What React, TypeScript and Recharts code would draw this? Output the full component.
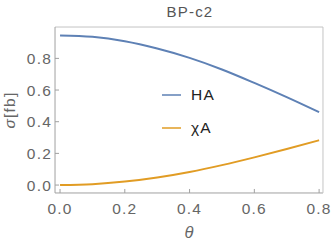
import React from 'react';
import { LineChart, Line, XAxis, YAxis, Legend } from 'recharts';

const thetas = [0, 0.1, 0.2, 0.3, 0.4, 0.5, 0.6, 0.7, 0.8];
const haValues = [0.945, 0.936, 0.908, 0.862, 0.803, 0.73, 0.645, 0.555, 0.46];
const chiValues = [0, 0.0055, 0.022, 0.048, 0.083, 0.126, 0.175, 0.228, 0.283];
const xTicks = [0, 0.2, 0.4, 0.6, 0.8];
const xMinor = [0.05, 0.1, 0.15, 0.25, 0.3, 0.35, 0.45, 0.5, 0.55, 0.65, 0.7, 0.75];
const yTicks = [0, 0.2, 0.4, 0.6, 0.8];
const yMinor = [0.05, 0.1, 0.15, 0.25, 0.3, 0.35, 0.45, 0.5, 0.55, 0.65, 0.7, 0.75, 0.85, 0.9, 0.95];

const data = thetas.map((t, i) => ({ theta: t, HA: haValues[i], chiA: chiValues[i] }));

const FONT = '"Liberation Sans", Arial, sans-serif';
const xDomain = [-0.0155, 0.812];
const yDomain = [-0.05, 0.998];
const darkAxis = '#a0a0a0';
const lightAxis = '#c4c4c4';
const tickFont = { fontSize: 15.5, fill: '#666', fontFamily: FONT, letterSpacing: 1.2 };
const T = 0.01; // axes need a non-zero box to be drawn

const renderLegend = (props: any) => {
  const { payload } = props;
  return (
    <div>
      {payload.map((entry: any) => (
        <div key={entry.value} style={{ display: 'flex', alignItems: 'center', height: 33 }}>
          <svg width={19} height={4}>
            <line x1={0} y1={2} x2={19} y2={2} stroke={entry.color} strokeWidth={1.5} />
          </svg>
          <span style={{ marginLeft: 10, fontSize: 15.5, fontFamily: FONT, letterSpacing: 1.2, color: '#222' }}>
            {entry.value}
          </span>
        </div>
      ))}
    </div>
  );
};

export default function App() {
  return (
    <div style={{ position: 'absolute', left: 0, top: 0, width: 332, height: 246, background: '#fff' }}>
      <div style={{ position: 'absolute', left: 0, top: 3, width: 380, textAlign: 'center', fontFamily: FONT, fontSize: 15, letterSpacing: 1.2, color: '#555' }}>
        BP-c2
      </div>
      <div style={{ position: 'absolute', left: 0, top: 223, width: 378, textAlign: 'center', fontFamily: FONT, fontSize: 16.5, color: '#666', fontStyle: 'italic' }}>
        θ
      </div>
      <div style={{ position: 'absolute', left: 10, top: 110, width: 0, height: 0 }}>
        <div style={{ position: 'absolute', transform: 'translate(-50%, -50%) rotate(-90deg)', whiteSpace: 'nowrap', fontFamily: FONT, fontSize: 15.5, letterSpacing: 1.2, color: '#666' }}>
          <i>σ</i>[fb]
        </div>
      </div>
      <LineChart width={332} height={246} data={data} margin={{ top: 27, right: 9, bottom: 53, left: 55 }}>
        <XAxis xAxisId="b" dataKey="theta" type="number" domain={xDomain} allowDataOverflow ticks={xTicks}
          height={T} tickSize={-4} tickMargin={14} stroke={darkAxis} tick={tickFont}
          tickFormatter={(v: number) => v.toFixed(1)} />
        <XAxis xAxisId="bm" dataKey="theta" type="number" domain={xDomain} allowDataOverflow ticks={xMinor}
          height={T} tickSize={-2.5} axisLine={false} tick={false} stroke={darkAxis} />
        <XAxis xAxisId="t" orientation="top" dataKey="theta" type="number" domain={xDomain} allowDataOverflow ticks={xTicks}
          height={T} tickSize={-4} tick={false} stroke={lightAxis} />
        <XAxis xAxisId="tm" orientation="top" dataKey="theta" type="number" domain={xDomain} allowDataOverflow ticks={xMinor}
          height={T} tickSize={-2.5} axisLine={false} tick={false} stroke={lightAxis} />
        <YAxis yAxisId="l" type="number" domain={yDomain} allowDataOverflow ticks={yTicks}
          width={T} tickSize={-4} tickMargin={7} stroke={darkAxis} tick={tickFont}
          tickFormatter={(v: number) => v.toFixed(1)} />
        <YAxis yAxisId="lm" type="number" domain={yDomain} allowDataOverflow ticks={yMinor}
          width={T} tickSize={-2.5} axisLine={false} tick={false} stroke={darkAxis} />
        <YAxis yAxisId="r" orientation="right" type="number" domain={yDomain} allowDataOverflow ticks={yTicks}
          width={T} tickSize={-4} tick={false} stroke={lightAxis} />
        <YAxis yAxisId="rm" orientation="right" type="number" domain={yDomain} allowDataOverflow ticks={yMinor}
          width={T} tickSize={-2.5} axisLine={false} tick={false} stroke={lightAxis} />
        <Legend layout="horizontal" verticalAlign="middle" align="center" content={renderLegend}
          wrapperStyle={{ left: 162, top: 78, width: 80, height: 66 }} />
        <Line xAxisId="b" yAxisId="l" type="monotone" dataKey="HA" name="HA" stroke="#5e81b5" strokeWidth={2}
          dot={false} isAnimationActive={false} />
        <Line xAxisId="b" yAxisId="l" type="monotone" dataKey="chiA" name="χA" stroke="#e19c24" strokeWidth={2}
          dot={false} isAnimationActive={false} />
      </LineChart>
    </div>
  );
}
